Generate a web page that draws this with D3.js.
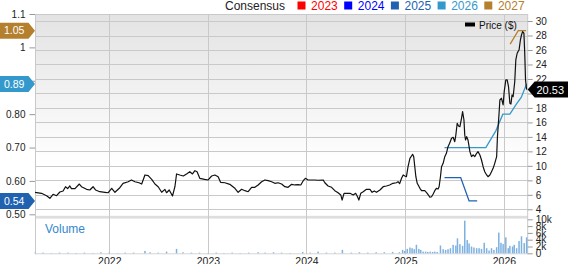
<!DOCTYPE html>
<html>
<head>
<meta charset="utf-8">
<script src="https://cdn.jsdelivr.net/npm/d3@7"></script>
<style>
  body { margin: 0; background: #fff; }
  svg text { font-family: Arial, "Liberation Sans", sans-serif; }
</style>
</head>
<body>
<div id="chart"></div>
<script>
// price line
const priceDates = ["2021-04-01","2021-04-25","2021-05-14","2021-05-26","2021-06-07","2021-06-20","2021-07-02","2021-07-14","2021-07-23","2021-07-31",
  "2021-08-08","2021-08-14","2021-08-27","2021-09-12","2021-09-20","2021-10-09","2021-10-21","2021-11-02","2021-11-11","2021-11-27",
  "2021-12-16","2021-12-28","2022-01-10","2022-01-22","2022-02-09","2022-02-21","2022-03-12","2022-03-24","2022-04-06","2022-04-21",
  "2022-05-01","2022-05-13","2022-05-25","2022-06-07","2022-06-19","2022-07-01","2022-07-14","2022-07-26","2022-08-01","2022-08-11",
  "2022-08-23","2022-09-01","2022-09-07","2022-09-19","2022-10-02","2022-10-14","2022-10-26","2022-11-05","2022-11-14","2022-11-22",
  "2022-12-02","2022-12-20","2023-01-02","2023-01-15","2023-01-27","2023-02-08","2023-02-17","2023-03-05","2023-03-23","2023-04-11",
  "2023-04-23","2023-05-06","2023-05-18","2023-05-30","2023-06-12","2023-06-24","2023-07-06","2023-07-19","2023-07-31","2023-08-12",
  "2023-08-25","2023-09-06","2023-09-18","2023-10-01","2023-10-13","2023-10-25","2023-11-07","2023-11-19","2023-12-01","2023-12-11",
  "2023-12-20","2023-12-28","2024-01-07","2024-01-20","2024-02-01","2024-02-13","2024-03-03","2024-03-09","2024-03-21","2024-04-03",
  "2024-04-15","2024-04-27","2024-05-07","2024-05-12","2024-05-19","2024-05-28","2024-06-10","2024-06-22","2024-07-01","2024-07-08",
  "2024-07-13","2024-07-20","2024-07-29","2024-08-10","2024-08-23","2024-08-31","2024-09-08","2024-09-16","2024-09-29","2024-10-11",
  "2024-10-23","2024-11-04","2024-11-16","2024-11-29","2024-12-05","2024-12-11","2024-12-18","2024-12-24","2024-12-30","2025-01-05",
  "2025-01-11","2025-01-18","2025-01-28","2025-02-01","2025-02-05","2025-02-09","2025-02-14","2025-02-24","2025-03-02","2025-03-14",
  "2025-03-23","2025-04-02","2025-04-08","2025-04-14","2025-04-20","2025-04-26","2025-05-02","2025-05-06","2025-05-11","2025-05-15",
  "2025-05-21","2025-05-27","2025-06-02","2025-06-08","2025-06-14","2025-06-21","2025-06-27","2025-07-03","2025-07-07","2025-07-12",
  "2025-07-17","2025-07-22","2025-07-28","2025-08-01","2025-08-06","2025-08-09","2025-08-12","2025-08-16","2025-08-21","2025-08-28",
  "2025-09-03","2025-09-09","2025-09-15","2025-09-22","2025-09-27","2025-10-04","2025-10-10","2025-10-16","2025-10-22","2025-10-29",
  "2025-11-03","2025-11-10","2025-11-16","2025-11-22","2025-11-28","2025-12-05","2025-12-08","2025-12-14","2025-12-17","2025-12-23",
  "2025-12-29","2026-01-02","2026-01-08","2026-01-13","2026-01-18","2026-01-23","2026-01-27","2026-01-31","2026-02-04","2026-02-10",
  "2026-02-14","2026-02-19","2026-02-22","2026-02-26","2026-03-03","2026-03-07","2026-03-11","2026-03-16","2026-03-19","2026-03-22",
  "2026-03-26"]
const priceValues = [6.35,6.21,5.88,5.52,6.07,5.88,6.39,6.53,7.12,6.85,
  7.22,6.85,6.85,7.49,7.12,6.76,6.67,7.12,6.67,6.43,
  6.35,6.29,6.90,6.35,6.98,7.59,7.81,8.05,7.81,7.67,
  7.49,8.74,8.64,8.14,7.49,7.12,6.35,6.75,6.29,6.67,
  5.84,7.12,8.88,8.74,8.60,8.88,9.19,8.88,9.33,9.19,
  8.28,8.14,8.05,8.60,8.74,8.50,7.73,7.67,7.45,6.90,
  6.35,6.76,6.57,6.43,7.04,7.04,7.36,7.81,8.05,7.95,
  7.81,7.59,7.67,7.49,7.12,7.04,7.45,7.36,7.40,7.36,
  7.95,8.28,8.05,8.05,8.05,8.01,8.05,7.67,7.22,7.04,
  6.57,6.29,5.98,5.28,6.21,6.21,6.21,5.98,6.21,5.74,
  5.28,6.21,6.43,6.76,6.76,6.35,6.53,6.35,6.67,7.12,
  7.22,7.36,7.59,7.67,7.81,7.55,8.28,8.74,8.60,8.50,
  9.88,11.04,11.60,11.27,9.88,8.50,7.59,6.90,6.57,6.57,
  6.21,5.66,5.74,6.11,6.57,6.90,6.80,7.12,8.50,9.88,
  10.35,11.27,11.73,12.65,13.12,13.81,13.94,13.34,14.26,15.88,
  15.51,15.41,16.57,17.48,16.33,14.26,13.57,14.03,13.57,11.96,
  11.27,11.50,11.27,11.73,11.96,11.50,10.81,9.88,9.19,8.74,
  8.50,8.74,9.19,9.66,10.35,11.27,14.03,17.26,19.10,19.33,
  18.41,20.24,21.86,21.86,20.93,18.64,18.54,19.79,19.55,21.62,
  24.62,25.55,25.77,26.00,27.38,28.07,28.53,28.31,25.55,21.86,
  20.53]

// consensus EPS estimates (left axis)
const consensusYears = ["2023","2024","2025","2026","2027"]
const consensusColors = ["#ff0000","#0000ff","#2062b0","#3399cc","#b5802e"]
const cons2025Dates = ["2025-05-26","2025-07-25","2025-08-25","2025-09-24"]
const cons2025Values = [0.61,0.61,0.54,0.54]
const cons2026Dates = ["2025-05-26","2025-10-26","2025-12-02","2025-12-28","2026-01-23","2026-02-16","2026-03-06","2026-03-26"]
const cons2026Values = [0.70,0.70,0.75,0.80,0.80,0.83,0.85,0.89]
const cons2027Dates = ["2026-01-24","2026-02-23","2026-03-24"]
const cons2027Values = [1.01,1.05,1.05]

// volume bars
const volDates = ["2021-04-01","2021-05-01","2021-06-01","2021-07-01","2021-08-01","2021-09-01","2021-10-01","2021-11-01","2021-12-01",
  "2022-01-01","2022-02-01","2022-03-01","2022-04-01","2022-05-13","2022-06-01","2022-07-01","2022-08-01","2022-09-07","2022-10-01","2022-11-01","2022-12-01",
  "2023-01-01","2023-02-01","2023-03-01","2023-04-01","2023-05-01","2023-06-01","2023-07-06","2023-08-01","2023-09-01","2023-10-01","2023-11-01","2023-12-18",
  "2024-01-15","2024-02-13","2024-03-15","2024-04-15","2024-05-13","2024-06-15","2024-07-15","2024-08-15","2024-09-15","2024-10-15","2024-11-15","2024-12-10",
  "2024-12-22","2024-12-30","2025-01-08","2025-01-18","2025-01-26","2025-02-03","2025-02-11","2025-02-20","2025-02-27","2025-03-08",
  "2025-03-17","2025-03-25","2025-04-03","2025-04-12","2025-04-20","2025-04-29","2025-05-11","2025-05-21","2025-05-30","2025-06-08",
  "2025-06-17","2025-06-27","2025-07-07","2025-07-13","2025-07-22","2025-08-01","2025-08-09","2025-08-18","2025-08-25","2025-09-03",
  "2025-09-12","2025-09-22","2025-10-01","2025-10-10","2025-10-20","2025-10-29","2025-11-07","2025-11-16","2025-11-25","2025-12-05",
  "2025-12-13","2025-12-21","2025-12-29","2026-01-08","2026-01-17","2026-01-23","2026-02-02","2026-02-08","2026-02-17","2026-02-26",
  "2026-03-07","2026-03-17","2026-03-26"]
const volValues = [200,200,100,200,200,100,200,100,300,
  200,100,200,200,700,300,200,500,1300,300,200,200,
  100,200,100,200,100,200,300,200,300,200,100,400,
  200,500,200,200,1000,200,300,200,300,300,400,300,
  1000,700,1300,1700,1500,1200,2500,1300,1000,500,
  500,400,500,400,500,400,2300,1200,1000,1200,
  1500,2500,2300,4400,2700,2200,9600,3900,2900,2000,
  1700,1500,1500,1300,3100,1500,800,1500,1000,1800,
  6100,3100,2700,4700,1500,2200,2000,2500,1500,3600,
  5000,3000,4700]

// axis ticks
const yearTicks = ["2022","2023","2024","2025","2026"]
const priceTicks = [4,6,8,10,12,14,16,18,20,22,24,26,28,30]
const epsTicks = [0.5,0.6,0.7,0.8,0.9,1.0,1.1]
const epsTickLabels = ["0.50","0.60","0.70","0.80","0.90","1","1.1"]
const volTicks = [0,2000,4000,6000,8000,10000]
const volTickLabels = ["0","2k","4k","6k","8k","10k"]

const width = 568, height = 264
const plotLeft = 35, plotRight = 527.7, plotTop = 14, priceBottom = 214.3
const volTop = 219.3, volBottom = 253.3
const grid = "#c9c9c9"

const parse = d3.timeParse("%Y-%m-%d")

var svg = d3.select("#chart")
  .append("svg")
  .attr("width", width)
  .attr("height", height)

// scales
var x = d3.scaleTime()
  .domain([parse("2021-04-01"), parse("2026-03-30")])
  .range([plotLeft, plotRight])
var yPrice = d3.scaleLinear().domain([3.31, 30.97]).range([priceBottom, plotTop])
var yEps = d3.scaleLinear().domain([0.5, 1.1]).range([priceBottom, plotTop])
var yVol = d3.scaleLinear().domain([0, 10000]).range([volBottom, volTop])

// background gradient of the price panel
var grad = svg.append("defs").append("linearGradient")
  .attr("id", "bg").attr("x1", 0).attr("y1", 0).attr("x2", 0).attr("y2", 1)
grad.append("stop").attr("offset", "0%").attr("stop-color", "#e3e3e3")
grad.append("stop").attr("offset", "75%").attr("stop-color", "#ffffff")

svg.append("rect")
  .attr("x", plotLeft).attr("y", plotTop)
  .attr("width", plotRight - plotLeft).attr("height", priceBottom - plotTop)
  .attr("fill", "url(#bg)")

// separator between price and volume
svg.append("rect")
  .attr("x", plotLeft).attr("y", 215.8)
  .attr("width", plotRight - plotLeft).attr("height", 2.8)
  .attr("fill", "#dedede")

// horizontal grid (price ticks)
svg.append("g")
  .selectAll("line")
  .data(priceTicks)
  .join("line")
  .attr("x1", plotLeft).attr("x2", plotRight)
  .attr("y1", d => Math.round(yPrice(d)) + 0.5)
  .attr("y2", d => Math.round(yPrice(d)) + 0.5)
  .attr("stroke", grid)

// vertical grid (years)
const yearDates = yearTicks.map(y => parse(y + "-01-01"))
svg.append("g")
  .selectAll("line")
  .data(yearDates)
  .join("line")
  .attr("x1", d => Math.round(x(d)) + 0.5).attr("x2", d => Math.round(x(d)) + 0.5)
  .attr("y1", plotTop).attr("y2", volBottom + 1)
  .attr("stroke", grid)

// frame
svg.append("line").attr("x1", plotLeft).attr("x2", plotRight).attr("y1", plotTop + 0.5).attr("y2", plotTop + 0.5).attr("stroke", grid)
svg.append("line").attr("x1", plotLeft + 0.5).attr("x2", plotLeft + 0.5).attr("y1", plotTop).attr("y2", volBottom + 1).attr("stroke", grid)
svg.append("line").attr("x1", plotRight).attr("x2", plotRight).attr("y1", plotTop).attr("y2", volBottom + 1).attr("stroke", grid)
svg.append("line").attr("x1", plotLeft).attr("x2", plotRight).attr("y1", volBottom + 0.5).attr("y2", volBottom + 0.5).attr("stroke", "#d5d5d5")

// volume bars
svg.append("g")
  .selectAll("rect")
  .data(volDates.map((d, i) => ({ date: parse(d), v: volValues[i] })))
  .join("rect")
  .attr("x", d => x(d.date) - 0.75)
  .attr("width", 1.5)
  .attr("y", d => yVol(d.v))
  .attr("height", d => volBottom - yVol(d.v))
  .attr("fill", "#7db1e1")

svg.append("text")
  .attr("x", 45).attr("y", 233)
  .attr("font-size", 12)
  .attr("fill", "#3388cc")
  .text("Volume")

// consensus lines
var epsLine = d3.line().x(d => x(d.date)).y(d => yEps(d.v))
const consSeries = [
  { year: "2025", dates: cons2025Dates, values: cons2025Values },
  { year: "2026", dates: cons2026Dates, values: cons2026Values },
  { year: "2027", dates: cons2027Dates, values: cons2027Values }
]
consSeries.forEach(s => {
  s.color = consensusColors[consensusYears.indexOf(s.year)]
  s.points = s.dates.map((d, i) => ({ date: parse(d), v: s.values[i] }))
  s.last = s.values[s.values.length - 1]
  svg.append("path")
    .datum(s.points)
    .attr("d", epsLine)
    .attr("fill", "none")
    .attr("stroke", s.color)
    .attr("stroke-width", 1.3)
})

// price line
var priceData = priceDates.map((d, i) => ({ date: parse(d), v: priceValues[i] }))
svg.append("path")
  .datum(priceData)
  .attr("d", d3.line().x(d => x(d.date)).y(d => yPrice(d.v)))
  .attr("fill", "none")
  .attr("stroke", "#111")
  .attr("stroke-width", 1.2)
  .attr("stroke-linejoin", "round")

const lastPrice = priceValues[priceValues.length - 1]

// axes
var axisR = svg.append("g")
  .attr("transform", `translate(${plotRight},0)`)
  .call(d3.axisRight(yPrice).tickValues(priceTicks).tickSize(5).tickPadding(3))
var axisL = svg.append("g")
  .attr("transform", `translate(${plotLeft},0)`)
  .call(d3.axisLeft(yEps).tickValues(epsTicks).tickSize(5.5).tickPadding(4)
    .tickFormat((d, i) => epsTickLabels[i]))
var axisV = svg.append("g")
  .attr("transform", `translate(${plotRight},0)`)
  .call(d3.axisRight(yVol).tickValues(volTicks).tickSize(5).tickPadding(3)
    .tickFormat((d, i) => volTickLabels[i]))
var axisX = svg.append("g")
  .attr("transform", `translate(0,${volBottom})`)
  .call(d3.axisBottom(x).tickValues(yearDates).tickSize(0).tickPadding(2)
    .tickFormat((d, i) => yearTicks[i]))

;[axisR, axisL, axisV, axisX].forEach(a => {
  a.select(".domain").remove()
  a.selectAll("line").attr("stroke", "#999")
  a.selectAll("text").attr("fill", "#222").attr("font-size", 10)
    .attr("font-family", "Arial, 'Liberation Sans', sans-serif")
})
axisX.selectAll("text").attr("font-size", 10.5).attr("dy", "0.9em")

// tick labels sitting under a value badge are covered, drop them
axisL.selectAll(".tick")
  .filter(d => consSeries.some(s => Math.abs(yEps(d) - yEps(s.last)) < 8))
  .select("text").remove()
axisR.selectAll(".tick")
  .filter(d => Math.abs(yPrice(d) - yPrice(lastPrice)) < 8)
  .select("text").remove()

// legend on top
svg.append("text")
  .attr("x", 225).attr("y", 9.5)
  .attr("font-size", 12).attr("fill", "#222")
  .text("Consensus")

var leg = svg.append("g")
  .selectAll("g")
  .data(consensusYears)
  .join("g")
  .attr("transform", (d, i) => `translate(${297.5 + i * 46.7},0)`)
leg.append("rect")
  .attr("x", 0).attr("y", 1.5).attr("width", 8).attr("height", 8)
  .attr("fill", (d, i) => consensusColors[i])
leg.append("text")
  .attr("x", 13.6).attr("y", 9.5)
  .attr("font-size", 12)
  .attr("fill", (d, i) => consensusColors[i])
  .text(d => d)

// price legend
svg.append("rect").attr("x", 465).attr("y", 22.5).attr("width", 10).attr("height", 4).attr("fill", "#000")
svg.append("text").attr("x", 479).attr("y", 29).attr("font-size", 10).attr("fill", "#111").text("Price ($)")

// badges with last consensus values on the left
consSeries.forEach(s => {
  const cy = yEps(s.last)
  svg.append("path")
    .attr("d", `M0,${cy - 8}L28.5,${cy - 8}L35,${cy}L28.5,${cy + 8}L0,${cy + 8}Z`)
    .attr("fill", s.color)
  svg.append("text")
    .attr("x", 4).attr("y", cy + 3.8)
    .attr("font-size", 10.5).attr("fill", "#fff")
    .text(d3.format(".2f")(s.last))
})

// last price badge on the right
const py = yPrice(lastPrice)
svg.append("path")
  .attr("d", `M${plotRight},${py}L${plotRight + 7},${py - 8}L${width},${py - 8}L${width},${py + 8}L${plotRight + 7},${py + 8}Z`)
  .attr("fill", "#000")
svg.append("text")
  .attr("x", 536.5).attr("y", py + 4)
  .attr("font-size", 11).attr("fill", "#fff")
  .text(d3.format(".2f")(lastPrice))
</script>
</body>
</html>
